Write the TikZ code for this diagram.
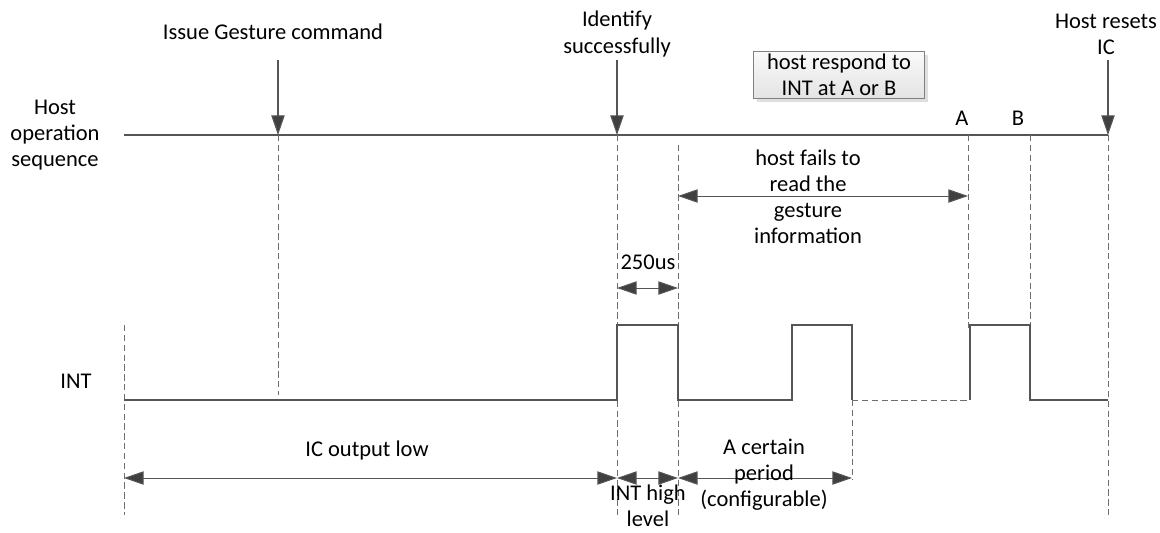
\documentclass[tikz,border=0pt]{standalone}
\usepackage{fontspec}
\setmainfont{Carlito}
\usepackage{tikz}
\usetikzlibrary{arrows.meta,shadows}

\definecolor{lineclr}{RGB}{85,85,85}
\definecolor{tipclr}{RGB}{64,64,64}
\definecolor{dashclr}{RGB}{110,110,110}

\begin{document}
\begin{tikzpicture}[x=0.025cm, y=-0.025cm,
    font=\fontsize{16}{18.5}\selectfont,
    sig/.style={draw=lineclr, line width=0.8pt},
    guide/.style={draw=dashclr, line width=0.7pt, dash pattern=on 4.5pt off 2.5pt},
    dim/.style={draw=lineclr, line width=0.7pt, {Triangle[length=14pt,width=9.5pt,fill=tipclr]}-{Triangle[length=14pt,width=9.5pt,fill=tipclr]}},
    evt/.style={draw=lineclr, line width=0.8pt, -{Triangle[length=14pt,width=9.5pt,fill=tipclr]}},
    lbl/.style={align=center, inner sep=0pt},
    respbox/.style={draw=gray, line width=0.6pt, top color=gray!4, bottom color=gray!22,
      minimum width=122pt, minimum height=31pt, align=center, inner sep=2pt,
      drop shadow={shadow xshift=2.5pt, shadow yshift=-2.5pt, fill=gray!25, opacity=1}}]
    \useasboundingbox (0,0) rectangle (1160,533);

    % host operation sequence
    \coordinate (h0) at (124,135);
    \coordinate (cmd) at (278,135);   \coordinate (cmdT) at (278,60);
    \coordinate (idf) at (617,135);   \coordinate (idfT) at (617,60);
    \coordinate (rst) at (1108,135);  \coordinate (rstT) at (1108,60);
    \draw[sig] (h0) -- (rst);
    \draw[evt] (cmdT) -- (cmd);
    \draw[evt] (idfT) -- (idf);
    \draw[evt] (rstT) -- (rst);
    \node[lbl] (hostlbl) at (55,135) {Host\\operation\\sequence};
    \node[lbl] (cmdlbl) at (273,32) {Issue Gesture command};
    \node[lbl] (idflbl) at (617,34) {Identify\\successfully};
    \node[lbl] (rstlbl) at (1106,34) {Host resets\\IC};
    \node[respbox] (resp) at (839,75) {host respond to\\INT at A or B};
    \node[lbl] (Alb) at (962,118) {A};
    \node[lbl] (Blb) at (1018,118) {B};

    % guide lines
    \coordinate (g0t) at (124,325);  \coordinate (g0b) at (124,515);
    \coordinate (g1b) at (278,395);
    \coordinate (g2b) at (617,515);
    \coordinate (g3t) at (678,145);  \coordinate (g3b) at (678,515);
    \coordinate (gAt) at (968,135);  \coordinate (gAb) at (968,328);
    \coordinate (gBt) at (1030,135); \coordinate (gBb) at (1030,325);
    \coordinate (g4b) at (1108,515);
    \coordinate (g5t) at (852,400);  \coordinate (g5b) at (852,480);
    \draw[guide] (g0t) -- (g0b);
    \draw[guide] (cmd) -- (g1b);
    \draw[guide] (idf) -- (g2b);
    \draw[guide] (g3t) -- (g3b);
    \draw[guide] (gAt) -- (gAb);
    \draw[guide] (gBt) -- (gBb);
    \draw[guide] (rst) -- (g4b);
    \draw[guide] (g5t) -- (g5b);

    % INT waveform
    \node[lbl] (intlbl) at (76,381) {INT};
    \coordinate (w0) at (124,400);
    \coordinate (w1) at (617,325);
    \coordinate (w2) at (678,400);
    \coordinate (w3) at (792,325);
    \coordinate (w4) at (852,400);
    \coordinate (w5) at (970,400);
    \coordinate (w6) at (1030,325);
    \coordinate (w7) at (1108,400);
    \draw[sig] (w0) -| (w1) -| (w2) -| (w3) -| (w4);
    \draw[guide] (w4) -- (w5);
    \draw[sig] (w5) |- (w6) |- (w7);

    % timing marks
    \coordinate (f0) at (678,196);  \coordinate (f1) at (968,196);
    \draw[dim] (f0) -- (f1);
    \node[lbl] (faillbl) at (808,197) {host fails to\\read the\\gesture\\information};
    \coordinate (t0) at (617,288);  \coordinate (t1) at (678,288);
    \draw[dim] (t0) -- (t1);
    \node[lbl] (tlbl) at (648,262) {250us};
    \coordinate (b0) at (124,478);  \coordinate (b1) at (617,478);
    \coordinate (b2) at (678,478);  \coordinate (b3) at (852,478);
    \draw[dim] (b0) -- (b1);
    \draw[dim] (b1) -- (b2);
    \draw[dim] (b2) -- (b3);
    \node[lbl] (lowlbl) at (367,450) {IC output low};
    \node[lbl] (highlbl) at (648,506) {INT high\\level};
    \node[lbl] (perlbl) at (764,475) {A certain\\period\\(configurable)};
\end{tikzpicture}
\end{document}
